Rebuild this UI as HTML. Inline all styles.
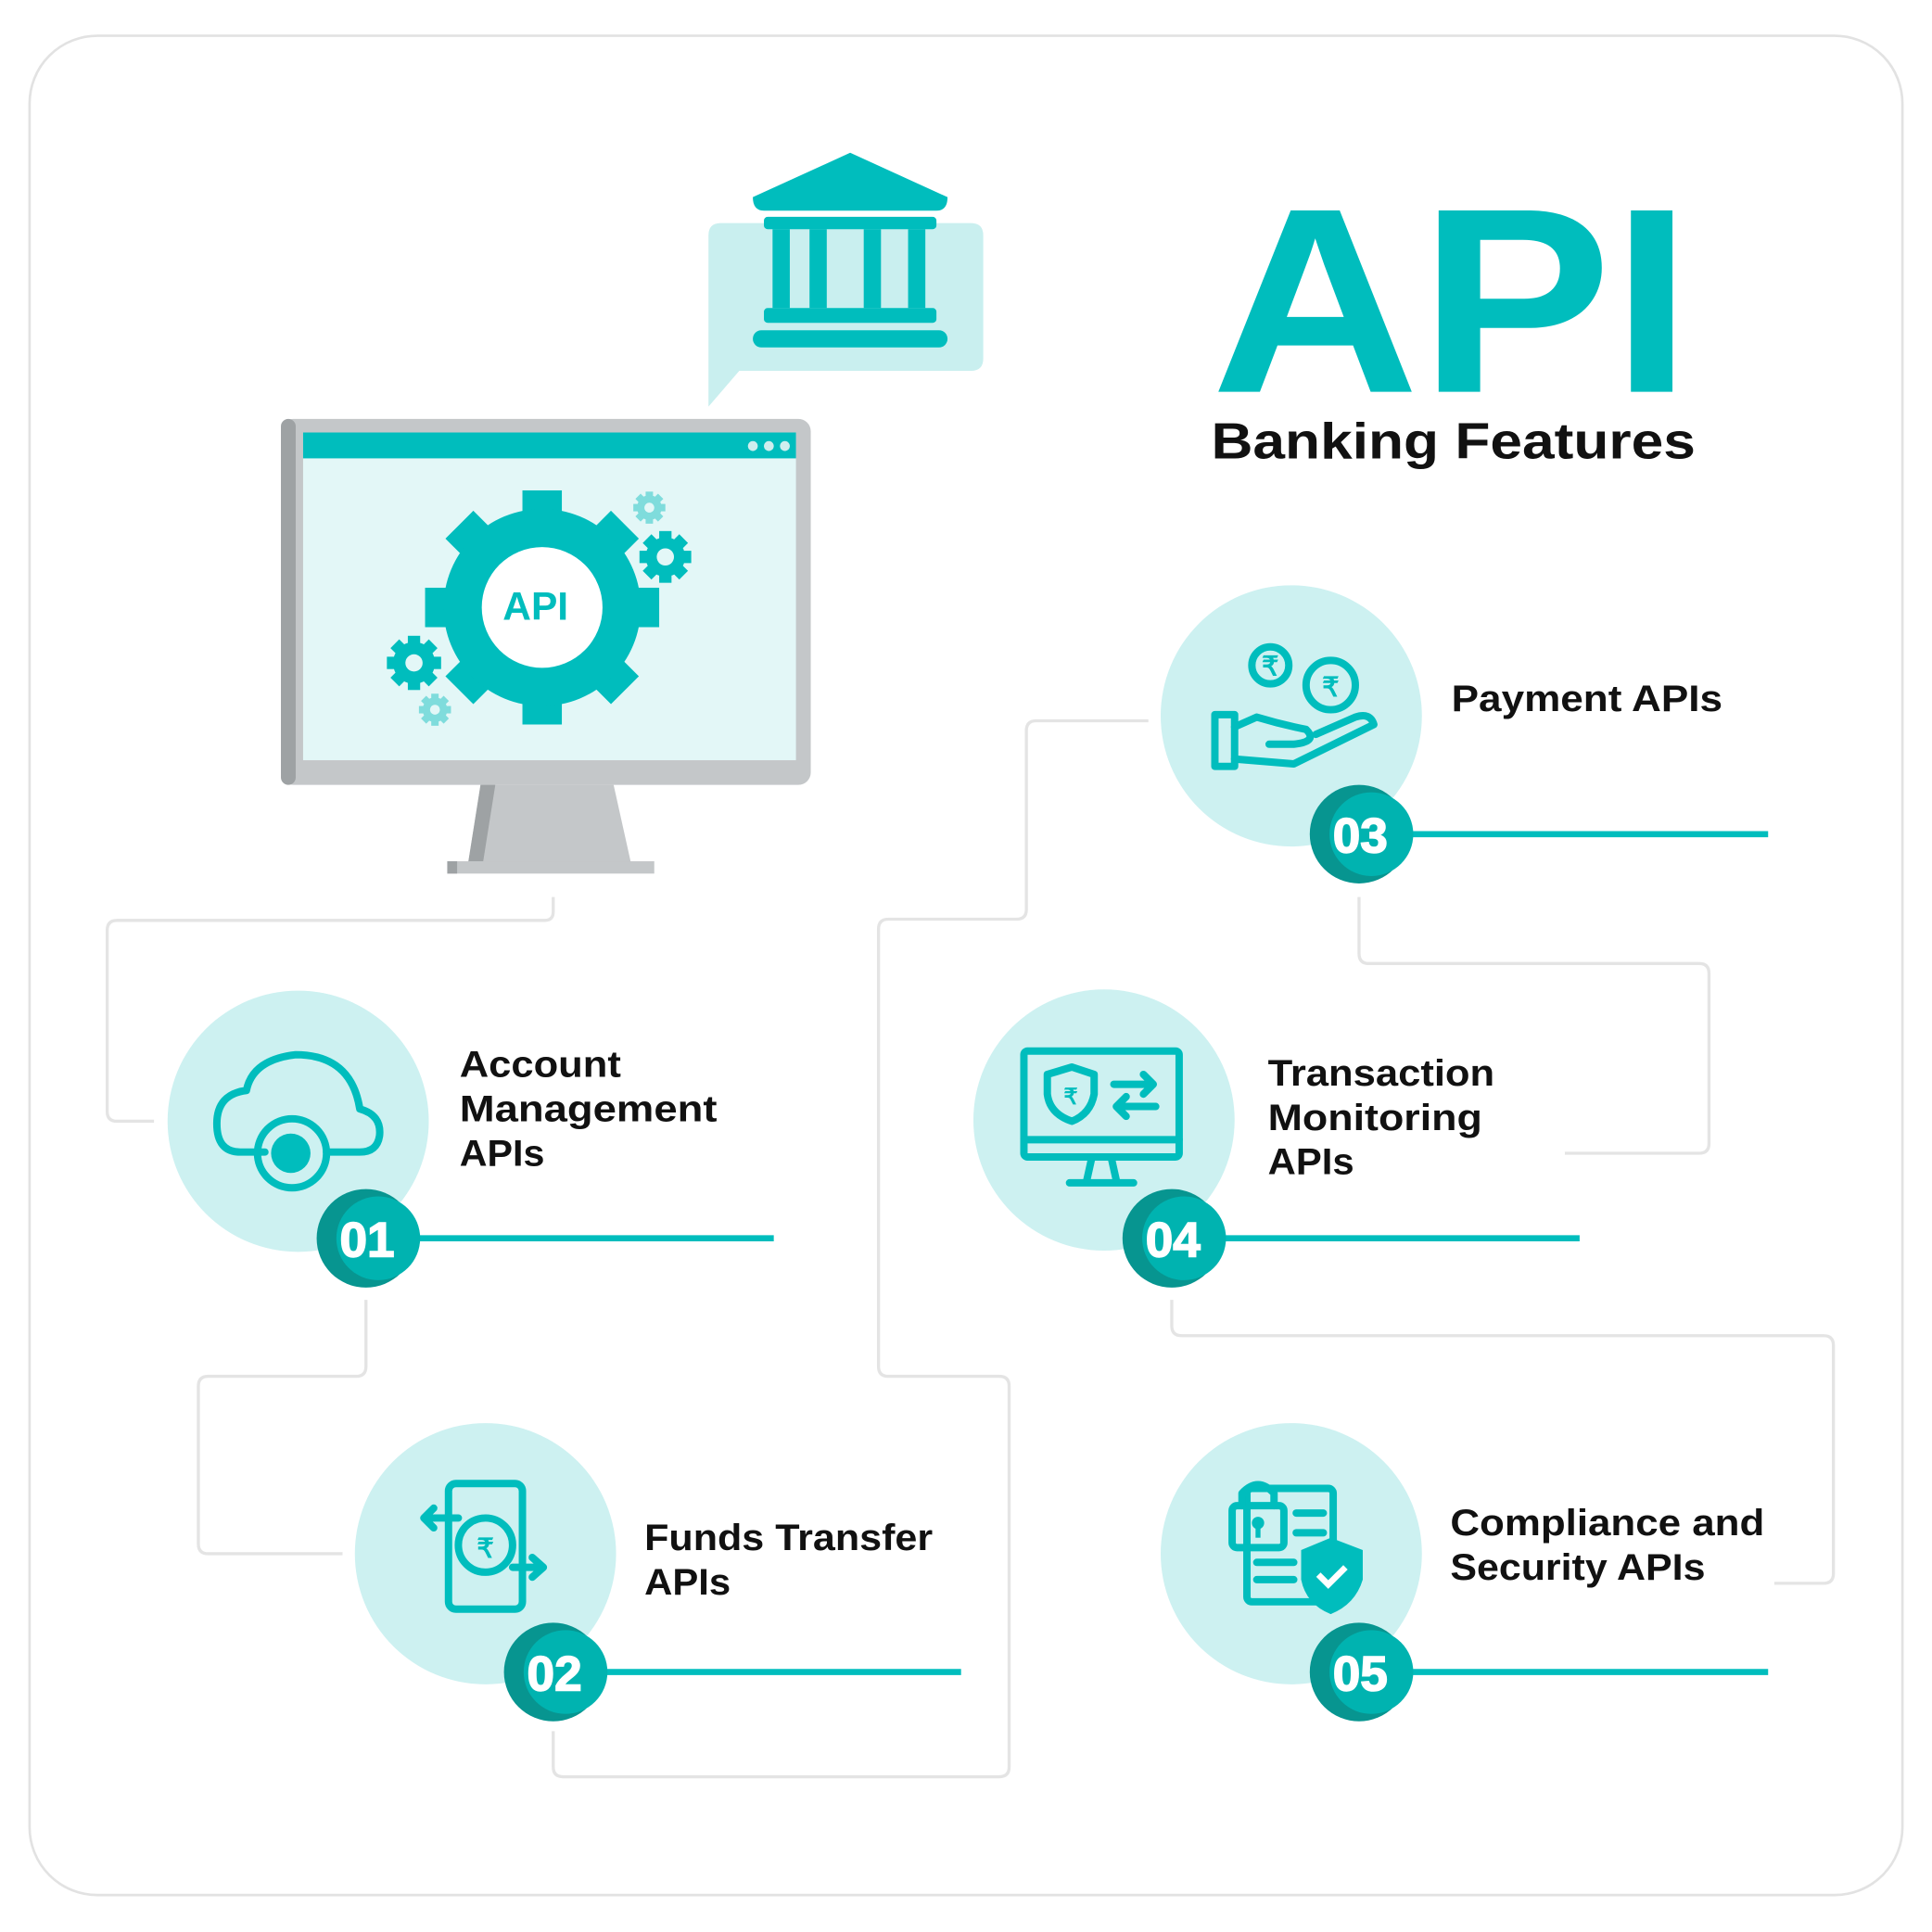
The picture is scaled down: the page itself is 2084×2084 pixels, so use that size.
<!DOCTYPE html>
<html><head><meta charset="utf-8"><style>
html,body{margin:0;padding:0;background:#fff;}
svg{display:block;}
text{font-family:"Liberation Sans",sans-serif;font-weight:bold;}
</style></head><body>
<svg width="2084" height="2084" viewBox="0 0 1568 1568" xmlns="http://www.w3.org/2000/svg">
<rect x="24" y="29" width="1520" height="1509" rx="55" fill="#fff" stroke="#e2e2e2" stroke-width="2"/>
<g fill="none" stroke="#e4e4e4" stroke-width="2.5" stroke-linejoin="round">
<path d="M449 728 V740 Q449 747 442 747 H95 Q87 747 87 755 V902 Q87 910 95 910 H125"/>
<path d="M297 1055 V1109 Q297 1117 289 1117 H169 Q161 1117 161 1125 V1253 Q161 1261 169 1261 H278"/>
<path d="M449 1405 V1434 Q449 1442 457 1442 H811 Q819 1442 819 1434 V1125 Q819 1117 811 1117 H721 Q713 1117 713 1109 V754 Q713 746 721 746 H825 Q833 746 833 738 V593 Q833 585 841 585 H932"/>
<path d="M1103 728 V774 Q1103 782 1111 782 H1379 Q1387 782 1387 790 V928 Q1387 936 1379 936 H1270"/>
<path d="M951 1055 V1076 Q951 1084 959 1084 H1480 Q1488 1084 1488 1092 V1277 Q1488 1285 1480 1285 H1440"/>
</g>
<text x="983" y="318" font-size="214" fill="#00bdbd" textLength="390" lengthAdjust="spacingAndGlyphs">API</text>
<text x="983" y="372" font-size="41" fill="#111" textLength="393" lengthAdjust="spacingAndGlyphs">Banking Features</text>
<path d="M585 181 H788 Q798 181 798 191 V291 Q798 301 788 301 H600 L575 330 V191 Q575 181 585 181 Z" fill="#c9efef"/>
<g fill="#00bdbd">
<path d="M611 160 L690 124 L769 160 Q769 171 760 171 H620 Q611 171 611 160 Z"/>
<rect x="620" y="176" width="140" height="10" rx="3"/>
<rect x="627" y="186" width="14" height="64"/><rect x="657" y="186" width="14" height="64"/><rect x="701" y="186" width="14" height="64"/><rect x="737" y="186" width="14" height="64"/>
<rect x="620" y="250" width="140" height="12" rx="3"/>
<rect x="611" y="268" width="158" height="14" rx="7"/>
</g>
<rect x="228" y="340" width="430" height="297" rx="10" fill="#c4c7c9"/>
<rect x="228" y="340" width="12" height="297" rx="6" fill="#9ea2a4"/>
<rect x="246" y="351" width="400" height="266" fill="#e3f7f7"/>
<rect x="246" y="351" width="400" height="21" fill="#00bdbd"/>
<circle cx="611" cy="362" r="4" fill="#cfeeee"/><circle cx="624" cy="362" r="4" fill="#cfeeee"/><circle cx="637" cy="362" r="4" fill="#cfeeee"/>
<path d="M390 637 H498 L512 700 H380 Z" fill="#c4c7c9"/>
<path d="M390 637 H402 L392 700 H380 Z" fill="#9ea2a4"/>
<rect x="363" y="699" width="168" height="10" fill="#c4c7c9"/>
<rect x="363" y="699" width="8" height="10" fill="#9ea2a4"/>
<g fill="#00bdbd">
<g transform="translate(440 493)">
<rect x="-16" y="-95" width="32" height="190"/><rect x="-95" y="-16" width="190" height="32"/>
<rect x="-16" y="-95" width="32" height="190" transform="rotate(45)"/><rect x="-16" y="-95" width="32" height="190" transform="rotate(-45)"/>
<circle r="80"/><circle r="49" fill="#fff"/>
</g>
<g transform="translate(540 452)"><rect x="-5" y="-21" width="10" height="42"/><rect x="-21" y="-5" width="42" height="10"/><rect x="-5" y="-21" width="10" height="42" transform="rotate(45)"/><rect x="-5" y="-21" width="10" height="42" transform="rotate(-45)"/><circle r="16"/><circle r="7" fill="#e3f7f7"/></g>
<g transform="translate(336 538)"><rect x="-5" y="-22" width="10" height="44"/><rect x="-22" y="-5" width="44" height="10"/><rect x="-5" y="-22" width="10" height="44" transform="rotate(45)"/><rect x="-5" y="-22" width="10" height="44" transform="rotate(-45)"/><circle r="17"/><circle r="7" fill="#e3f7f7"/></g>
<g transform="translate(527 412)" fill="#7fdcdc"><rect x="-3" y="-13" width="6" height="26"/><rect x="-13" y="-3" width="26" height="6"/><rect x="-3" y="-13" width="6" height="26" transform="rotate(45)"/><rect x="-3" y="-13" width="6" height="26" transform="rotate(-45)"/><circle r="10"/><circle r="4" fill="#e3f7f7"/></g>
<g transform="translate(353 576)" fill="#7fdcdc"><rect x="-3" y="-13" width="6" height="26"/><rect x="-13" y="-3" width="26" height="6"/><rect x="-3" y="-13" width="6" height="26" transform="rotate(45)"/><rect x="-3" y="-13" width="6" height="26" transform="rotate(-45)"/><circle r="10"/><circle r="4" fill="#e3f7f7"/></g>
</g>
<text x="408" y="503" font-size="32" fill="#00bdbd">API</text>
<g fill="#cdf1f1">
<circle cx="242" cy="910" r="106"/><circle cx="394" cy="1261" r="106"/><circle cx="1048" cy="581" r="106"/><circle cx="896" cy="909" r="106"/><circle cx="1048" cy="1261" r="106"/>
</g>
<g stroke="#00bdbd" stroke-width="5">
<line x1="297" y1="1005" x2="628" y2="1005"/><line x1="449" y1="1357" x2="780" y2="1357"/><line x1="1103" y1="677" x2="1435" y2="677"/><line x1="951" y1="1005" x2="1282" y2="1005"/><line x1="1103" y1="1357" x2="1435" y2="1357"/>
</g>
<g>
<circle cx="297" cy="1005" r="40" fill="#079590"/><circle cx="307" cy="1005" r="34" fill="#00b3b0"/>
<circle cx="449" cy="1357" r="40" fill="#079590"/><circle cx="459" cy="1357" r="34" fill="#00b3b0"/>
<circle cx="1103" cy="677" r="40" fill="#079590"/><circle cx="1113" cy="677" r="34" fill="#00b3b0"/>
<circle cx="951" cy="1005" r="40" fill="#079590"/><circle cx="961" cy="1005" r="34" fill="#00b3b0"/>
<circle cx="1103" cy="1357" r="40" fill="#079590"/><circle cx="1113" cy="1357" r="34" fill="#00b3b0"/>
</g>
<g fill="#fff" font-size="40" text-anchor="middle" stroke="#fff" stroke-width="1.2">
<text x="298" y="1020">01</text><text x="450" y="1372">02</text><text x="1104" y="692">03</text><text x="952" y="1020">04</text><text x="1104" y="1372">05</text>
</g>
<g fill="none" stroke="#00bdbd" stroke-width="6" stroke-linecap="round" stroke-linejoin="round">
<path d="M215 935 H195 Q176 935 176 912 Q176 888 200 885 Q205 860 240 856 Q285 856 292 900 Q310 905 308 922 Q306 935 292 935 H265"/>
<circle cx="237" cy="936" r="28"/>
<rect x="364" y="1204" width="60" height="102" rx="6"/>
<circle cx="394" cy="1254" r="22"/>
<path d="M372 1232 H345 M352 1224 L344 1232 L352 1240"/>
<path d="M416 1272 H440 M432 1264 L441 1272 L432 1280"/>
<circle cx="1031" cy="540" r="15"/><circle cx="1080" cy="556" r="20"/>
<rect x="986" y="580" width="16" height="42"/>
<path d="M1002 590 L1020 582 Q1040 588 1060 592 Q1070 602 1050 604 H1030 M1002 616 L1050 620 L1115 588 Q1112 578 1100 582 L1068 596"/>
<rect x="831" y="853" width="126" height="86" rx="3"/>
<line x1="831" y1="925" x2="957" y2="925"/>
<path d="M886 940 L882 958 M902 940 L906 958 M868 960 H920"/>
<path d="M870 866 L888 872 V888 Q885 904 870 910 Q852 904 850 888 V872 Z"/>
<path d="M904 880 H936 M928 872 L936 880 L928 888 M938 898 H906 M914 890 L906 898 L914 906"/>
<rect x="1012" y="1208" width="70" height="92" rx="4"/>
<rect x="1000" y="1222" width="42" height="34" rx="4"/>
<path d="M1008 1222 V1212 Q1021 1198 1034 1212 V1222"/>
<path d="M1052 1228 H1074 M1052 1244 H1074 M1020 1268 H1050 M1020 1282 H1050"/>
</g>
<circle cx="236" cy="936" r="16" fill="#00bdbd"/>
<circle cx="1021" cy="1236" r="5" fill="#00bdbd"/><rect x="1019" y="1236" width="4" height="12" fill="#00bdbd"/>
<path d="M1080 1248 L1106 1258 V1282 Q1100 1302 1080 1310 Q1060 1302 1056 1282 V1258 Z" fill="#00bdbd"/>
<path d="M1070 1278 L1078 1286 L1092 1272" fill="none" stroke="#fff" stroke-width="5"/>
<g fill="#00bdbd" font-size="22" text-anchor="middle"><text x="1031" y="548">₹</text><text x="1080" y="565">₹</text><text x="394" y="1264">₹</text><text x="869" y="896" font-size="18">₹</text></g>
<g fill="#111" font-size="30">
<text x="373" y="874" textLength="131" lengthAdjust="spacingAndGlyphs">Account</text><text x="373" y="910" textLength="209" lengthAdjust="spacingAndGlyphs">Management</text><text x="373" y="946" textLength="69" lengthAdjust="spacingAndGlyphs">APIs</text>
<text x="523" y="1258" textLength="234" lengthAdjust="spacingAndGlyphs">Funds Transfer</text><text x="523" y="1294" textLength="70" lengthAdjust="spacingAndGlyphs">APIs</text>
<text x="1178" y="577" textLength="220" lengthAdjust="spacingAndGlyphs">Payment APIs</text>
<text x="1029" y="881" textLength="184" lengthAdjust="spacingAndGlyphs">Transaction</text><text x="1029" y="917" textLength="174" lengthAdjust="spacingAndGlyphs">Monitoring</text><text x="1029" y="953" textLength="70" lengthAdjust="spacingAndGlyphs">APIs</text>
<text x="1177" y="1246" textLength="255" lengthAdjust="spacingAndGlyphs">Compliance and</text><text x="1177" y="1282" textLength="207" lengthAdjust="spacingAndGlyphs">Security APIs</text>
</g>
</svg>
</body></html>
